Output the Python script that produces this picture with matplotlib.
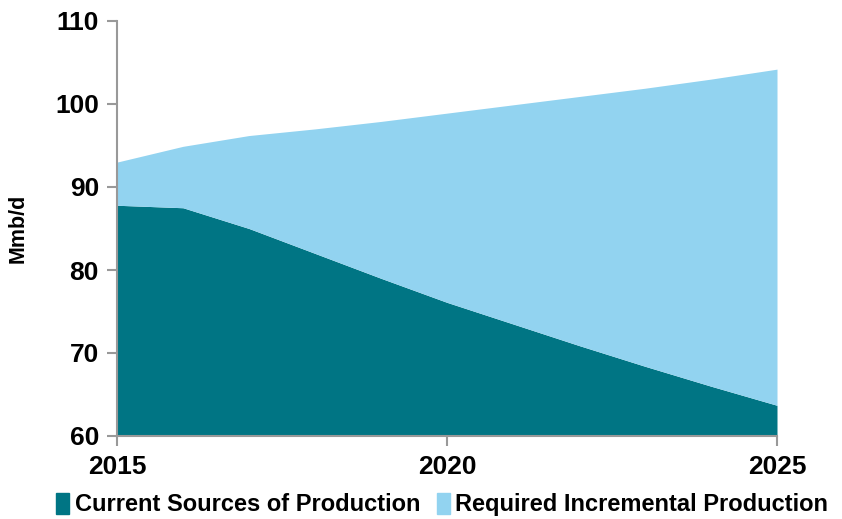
import numpy as np
import matplotlib.pyplot as plt
from matplotlib.patches import Patch

plt.rcParams['font.family'] = ['Liberation Sans', 'DejaVu Sans']
plt.rcParams['font.weight'] = 'bold'

years = np.arange(2015, 2026)
current = [87.8, 87.5, 85.0, 82.0, 79.0, 76.1, 73.5, 70.9, 68.4, 66.0, 63.7]
total = [93.0, 94.9, 96.2, 97.0, 97.9, 98.9, 99.9, 100.9, 101.9, 103.0, 104.2]
labels = ['Current Sources of Production', 'Required Incremental Production']
teal = '#007584'
light = '#92D3F0'

fig = plt.figure(figsize=(8.42, 5.19), dpi=100)
ax = fig.add_axes([117/842, 1 - 436/519, 660/842, 415/519])

ax.fill_between(years, 60, current, color=teal, linewidth=0)
ax.fill_between(years, current, total, color=light, linewidth=0)

ax.set_xlim(2015, 2025)
ax.set_ylim(60, 110)
ax.set_xticks([2015, 2020, 2025])
ax.set_yticks(range(60, 111, 10))
ax.tick_params(axis='both', labelsize=19, color='#999999', width=1.5, length=7, direction='out')
ax.tick_params(axis='x', pad=7)
ax.tick_params(axis='y', pad=6)
for s in ['top', 'right']:
    ax.spines[s].set_visible(False)
for s in ['left', 'bottom']:
    ax.spines[s].set_color('#999999')
    ax.spines[s].set_linewidth(1.5)
ax.set_ylabel('Mmb/d', fontsize=15.5, fontweight='bold', labelpad=19)

handles = [Patch(color=teal), Patch(color=light)]
fig.legend(handles, labels, loc='lower center', bbox_to_anchor=(0.525, -0.036), ncol=2,
           frameon=False, fontsize=17, handlelength=0.55, handleheight=1.0,
           handletextpad=0.25, columnspacing=0.7)

fig.savefig('out.png', dpi=100)
